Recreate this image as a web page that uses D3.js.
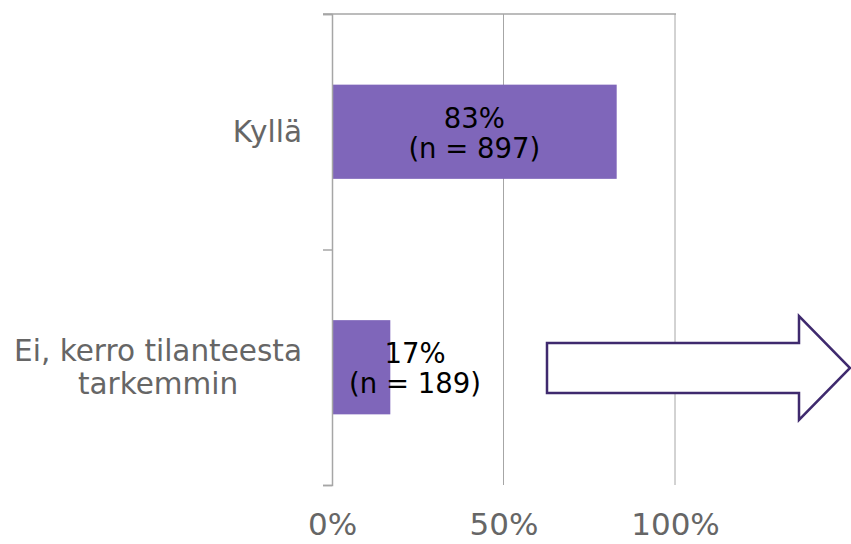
<!DOCTYPE html>
<html><head><meta charset="utf-8">
<script src="https://cdn.jsdelivr.net/npm/d3@7"></script>
<style>body{margin:0;background:#fff}svg{display:block}text{font-family:"DejaVu Sans",Verdana,sans-serif}</style>
</head><body><svg id="c" width="851" height="544"></svg>
<script>
const categories = [["Kyllä"], ["Ei, kerro tilanteesta", "tarkemmin"]];
const values = [0.83, 0.17];
const counts = [897, 189];
const tickValues = [0, 0.5, 1];

const svg = d3.select("#c");
const x = d3.scaleLinear().domain([0, 1]).range([332, 675]);
const y = d3.scaleBand().domain(d3.range(categories.length)).range([14, 485]).paddingInner(0.6).paddingOuter(0.3);
const yb = d3.scaleBand().domain(d3.range(categories.length)).range([14, 485]);

// gridlines
svg.append("g").selectAll("line").data(tickValues.slice(1)).join("line")
  .attr("x1", d => x(d)).attr("x2", d => x(d)).attr("y1", 14).attr("y2", 485)
  .attr("stroke", "#a6a6a6").attr("stroke-width", 1);
// top line
svg.append("line").attr("x1", 323).attr("x2", 676).attr("y1", 14).attr("y2", 14)
  .attr("stroke", "#a6a6a6").attr("stroke-width", 1.5);

// bars
svg.append("g").selectAll("rect").data(values).join("rect")
  .attr("x", x(0)).attr("y", (d, i) => y(i)).attr("width", d => x(d) - x(0)).attr("height", y.bandwidth())
  .attr("fill", "#7f66ba");

// category axis
const yAxis = d3.axisLeft(d3.scaleLinear().domain([0, categories.length]).range([14, 485]))
  .ticks(categories.length).tickSize(9).tickFormat("");
const ga = svg.append("g").attr("transform", `translate(${x(0)},0)`).call(yAxis);
ga.select(".domain").attr("stroke", "#a6a6a6").attr("stroke-width", 1.5);
ga.selectAll(".tick line").attr("stroke", "#a6a6a6").attr("stroke-width", 1.5);

// x tick labels
const xAxis = d3.axisBottom(x).tickValues(tickValues).tickFormat(d3.format(".0%")).tickSize(0);
const gx = svg.append("g").call(xAxis);
gx.select(".domain").remove();
gx.selectAll("text").attr("font-size", 31).attr("fill", "#666").attr("font-family", '"DejaVu Sans",Verdana,sans-serif')
  .attr("y", 535).attr("dy", null);

// category labels
categories.forEach((lines, i) => {
  const cy = yb(i) + yb.bandwidth() / 2;
  const lh = 33;
  const g = svg.append("g");
  const t = g.selectAll("text").data(lines).join("text")
    .attr("font-size", 29.5).attr("fill", "#666").attr("text-anchor", "middle")
    .attr("y", (d, j) => cy + 10 + (j - (lines.length - 1) / 2) * lh)
    .text(d => d);
  const w = d3.max(t.nodes(), n => n.getComputedTextLength());
  t.attr("x", 302 - w / 2);
});

// bar labels
values.forEach((v, i) => {
  const cy = yb(i) + yb.bandwidth() / 2;
  const cx = Math.max((x(0) + x(v)) / 2, x(0) + 83);
  const t = svg.append("text").attr("font-size", 27.5).attr("fill", "#000").attr("text-anchor", "middle");
  t.append("tspan").attr("x", cx).attr("y", cy - 4).text(d3.format(".0%")(v));
  t.append("tspan").attr("x", cx).attr("y", cy + 26).text(`(n = ${counts[i]})`);
});

// arrow
const ax0 = 547, ax1 = 799, tip = 850, cyA = 368, sh = 25, hh = 52;
const pts = [[ax0, cyA - sh], [ax1, cyA - sh], [ax1, cyA - hh], [tip, cyA], [ax1, cyA + hh], [ax1, cyA + sh], [ax0, cyA + sh]];
svg.append("path").attr("d", d3.line()(pts) + "Z").attr("fill", "#fff").attr("stroke", "#3f2a6e").attr("stroke-width", 2.5);
</script></body></html>
